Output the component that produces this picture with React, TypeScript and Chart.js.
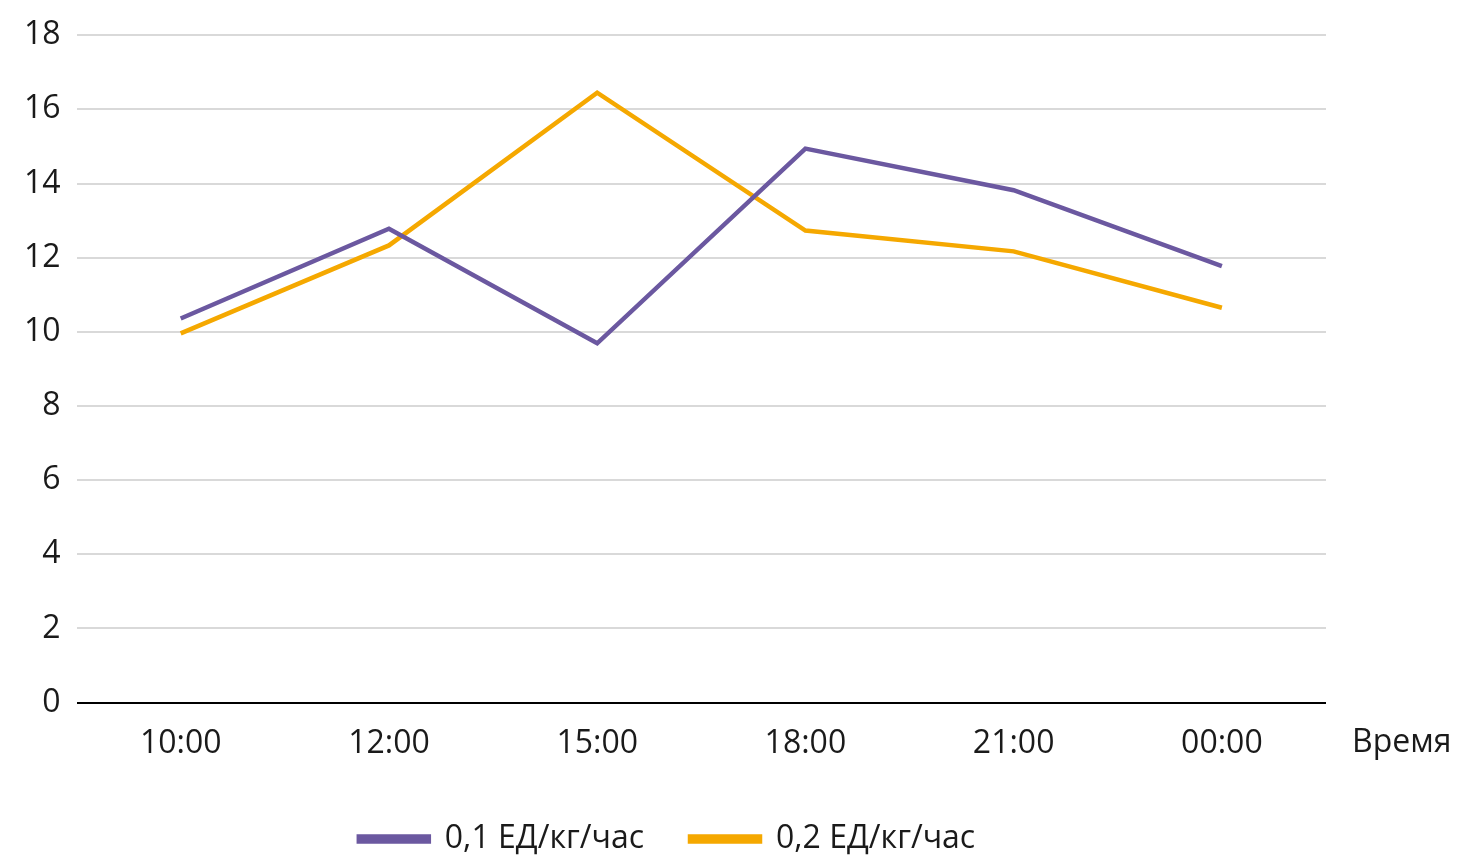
import React, { useEffect, useRef } from "react";
import { Chart, registerables } from "chart.js";
Chart.register(...registerables);

const categories = ["10:00", "12:00", "15:00", "18:00", "21:00", "00:00"];
const series1 = [10.36, 12.78, 9.69, 14.94, 13.82, 11.77];
const series2 = [9.96, 12.33, 16.45, 12.73, 12.17, 10.65];
const names = ["0,1 ЕД/кг/час", "0,2 ЕД/кг/час"];
const axisTitle = "Время";
const FONT = "'Open Sans', 'Noto Sans', sans-serif";

export default function App() {
  const ref = useRef<HTMLCanvasElement>(null);
  useEffect(() => {
    const titlePlugin = {
      id: "xTitle",
      afterDraw(chart: any) {
        const { ctx, chartArea } = chart;
        ctx.save();
        ctx.font = `32px ${FONT}`;
        ctx.fillStyle = "#1a1a1a";
        ctx.textBaseline = "middle";
        ctx.textAlign = "left";
        ctx.fillText(axisTitle, chartArea.right + 26, chartArea.bottom + 40);
        ctx.restore();
      },
    };
    const chart = new Chart(ref.current!, {
      type: "line",
      data: {
        labels: categories,
        datasets: [
          { label: names[0], data: series1, borderColor: "#6b58a0", backgroundColor: "#6b58a0", borderWidth: 4.5, pointRadius: 0, tension: 0 },
          { label: names[1], data: series2, borderColor: "#f5a800", backgroundColor: "#f5a800", borderWidth: 4.5, pointRadius: 0, tension: 0 },
        ],
      },
      options: {
        animation: false,
        responsive: false,
        layout: { padding: { left: 8, right: 140, top: 16, bottom: 0 } },
        plugins: {
          tooltip: { enabled: false },
          legend: {
            position: "bottom",
            labels: { boxWidth: 70, boxHeight: 5, padding: 46, color: "#1a1a1a", font: { size: 32, family: FONT } },
          },
        },
        scales: {
          x: {
            offset: true,
            grid: { display: false },
            border: { display: false },
            ticks: { color: "#1a1a1a", font: { size: 32, family: FONT }, padding: 14, maxRotation: 0 },
          },
          y: {
            min: 0, max: 18,
            ticks: { stepSize: 2, color: "#1a1a1a", font: { size: 32, family: FONT }, padding: 16 },
            border: { display: false },
            grid: {
              drawTicks: false,
              lineWidth: 2,
              color: (c: any) => (c.tick && c.tick.value === 0 ? "#000" : "#d9d9d9"),
            },
          },
        },
      },
      plugins: [titlePlugin],
    });
    return () => chart.destroy();
  }, []);
  return (
    <div style={{ position: "fixed", left: 0, top: 0, width: 1466, height: 865, background: "#fff" }}>
      <canvas ref={ref} width={1466} height={865} style={{ width: 1466, height: 865 }} />
    </div>
  );
}
